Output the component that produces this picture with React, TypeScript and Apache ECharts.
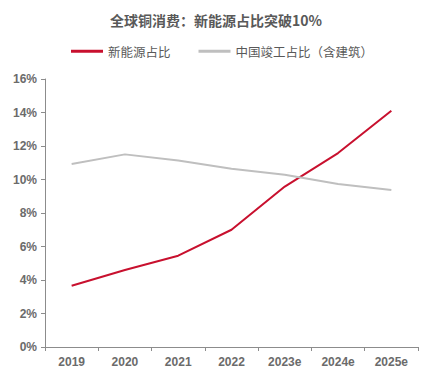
import React, { useEffect, useRef } from "react";
import * as echarts from "echarts";

const titleText = "全球铜消费：新能源占比突破10%";
const years = ["2019", "2020", "2021", "2022", "2023e", "2024e", "2025e"];
const newEnergyName = "新能源占比";
const newEnergy = [3.66, 4.6, 5.45, 7.0, 9.58, 11.58, 14.1];
const chinaName = "中国竣工占比（含建筑）";
const chinaBuild = [10.93, 11.5, 11.14, 10.64, 10.29, 9.73, 9.37];

export default function App() {
  const ref = useRef<HTMLDivElement>(null);
  useEffect(() => {
    if (!ref.current) return;
    const chart = echarts.init(ref.current, null, { renderer: "svg" });
    chart.setOption({
      animation: false,
      backgroundColor: "#ffffff",
      title: {
        text: titleText,
        left: "center",
        top: 8,
        textStyle: {
          fontFamily: "Noto Sans CJK SC",
          fontSize: 14,
          fontWeight: "bold",
          color: "#595959",
        },
      },
      legend: {
        left: 66,
        top: 40,
        icon: "rect",
        itemWidth: 32,
        itemHeight: 3,
        itemGap: 28,
        textStyle: {
          fontFamily: "Noto Sans CJK SC",
          fontSize: 12.5,
          color: "#595959",
        },
        data: [newEnergyName, chinaName],
      },
      grid: { left: 45, right: 14, top: 79, bottom: 30, containLabel: false },
      xAxis: {
        type: "category",
        data: years,
        boundaryGap: true,
        axisLine: { lineStyle: { color: "#8c8c8c", width: 1 } },
        axisTick: { show: true, length: 4, lineStyle: { color: "#8c8c8c" } },
        axisLabel: {
          fontFamily: "Liberation Sans",
          fontSize: 12,
          fontWeight: "bold",
          color: "#6b6b6b",
          margin: 9,
        },
        splitLine: { show: false },
      },
      yAxis: {
        type: "value",
        min: 0,
        max: 16,
        interval: 2,
        axisLine: { show: true, lineStyle: { color: "#8c8c8c", width: 1 } },
        axisTick: { show: true, length: 4, lineStyle: { color: "#8c8c8c" } },
        axisLabel: {
          formatter: "{value}%",
          fontFamily: "Liberation Sans",
          fontSize: 12,
          fontWeight: "bold",
          color: "#6b6b6b",
          margin: 8,
        },
        splitLine: { show: false },
      },
      series: [
        {
          name: newEnergyName,
          type: "line",
          data: newEnergy,
          symbol: "none",
          lineStyle: { color: "#C8102E", width: 2 },
          itemStyle: { color: "#C8102E" },
        },
        {
          name: chinaName,
          type: "line",
          data: chinaBuild,
          symbol: "none",
          lineStyle: { color: "#BFBFBF", width: 2 },
          itemStyle: { color: "#BFBFBF" },
        },
      ],
    });
    return () => chart.dispose();
  }, []);
  return <div ref={ref} style={{ width: 432, height: 377, margin: -8 }} />;
}
